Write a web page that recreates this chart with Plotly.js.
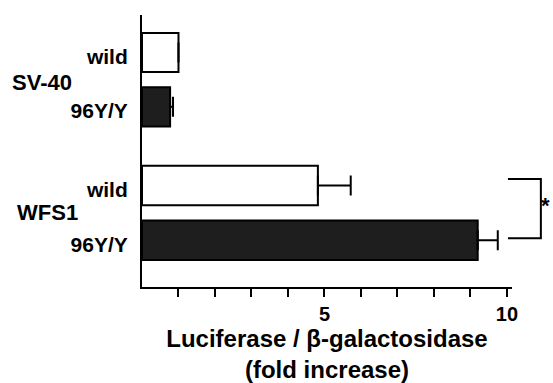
<!DOCTYPE html>
<html>
<head>
<meta charset="utf-8">
<script src="https://cdn.plot.ly/plotly-3.0.1.min.js"></script>
<style>html,body{margin:0;padding:0;background:#fff;}#chart{width:553px;height:383px;}</style>
</head>
<body>
<div id="chart"></div>
<script>
// ---- data ----
const groups = ["SV-40", "WFS1"];
const variants = ["wild", "96Y/Y"];
const sv40Values = [1.0, 0.77];
const sv40Errors = [0, 0.08];
const wfs1Values = [4.82, 9.2];
const wfs1Errors = [0.9, 0.55];
const xTickVals = [1, 2, 3, 4, 5, 6, 7, 8, 9, 10];
const xTickText = ["", "", "", "", "5", "", "", "", "", "10"];
const xTitle = "Luciferase / β-galactosidase<br>(fold increase)";
const sigMark = "*";

// ---- style ----
const FONT = "Liberation Sans, Arial, sans-serif";
const barColors = ["#ffffff", "#1e1e1e"];

function barTrace(vals, errs, yax) {
  return {
    type: "bar", orientation: "h",
    x: vals, y: variants, yaxis: yax, xaxis: "x",
    width: 0.72,
    marker: { color: barColors, line: { color: "#000", width: 2 } },
    error_x: { type: "data", array: errs, arrayminus: errs.map(() => 0), symmetric: false,
               color: "#000", thickness: 2, width: 10 },
    hoverinfo: "skip", showlegend: false
  };
}

const yCommon = {
  type: "category", showline: true, linecolor: "#000", linewidth: 2,
  ticks: "", showgrid: false, zeroline: false, fixedrange: true,
  tickfont: { family: FONT, size: 21, color: "#000", weight: "bold" },
  ticklabelstandoff: 8, ticklabelshift: -4
};

const layout = {
  width: 553, height: 383,
  margin: { l: 142, r: 41, t: 15, b: 96 },
  paper_bgcolor: "#fff", plot_bgcolor: "#fff",
  font: { family: FONT, color: "#000" },
  bargap: 0,
  xaxis: {
    anchor: "y2", range: [0, 10.14], showline: true, linecolor: "#000", linewidth: 2,
    showgrid: false, zeroline: false,
    ticks: "outside", ticklen: 8, tickwidth: 2, tickcolor: "#000",
    tickvals: xTickVals, ticktext: xTickText,
    tickfont: { family: FONT, size: 20, color: "#000", weight: "bold" },
    title: { text: xTitle, font: { family: FONT, size: 24, color: "#000", weight: "bold" }, standoff: 8 }
  },
  yaxis: Object.assign({}, yCommon, { domain: [0.5184, 1], range: [1.72, -0.69] }),
  yaxis2: Object.assign({}, yCommon, { domain: [0, 0.5184], range: [1.85, -0.72] }),
  annotations: [
    { text: groups[0], xref: "paper", x: 0, xanchor: "left", xshift: -132,
      yref: "y", y: 0.5, yanchor: "middle", yshift: -3, showarrow: false,
      font: { family: FONT, size: 22, color: "#000", weight: "bold" } },
    { text: groups[1], xref: "paper", x: 0, xanchor: "left", xshift: -127,
      yref: "y2", y: 0.5, yanchor: "middle", yshift: 0, showarrow: false,
      font: { family: FONT, size: 22, color: "#000", weight: "bold" } },
    { text: sigMark, xref: "paper", x: 1.108, xanchor: "right",
      yref: "y2", y: 0.36, yanchor: "middle", showarrow: false,
      font: { family: FONT, size: 22, color: "#000", weight: "bold" } }
  ],
  shapes: [
    { type: "path", xref: "paper", yref: "y2",
      path: "M 0.989,-0.12 L 1.078,-0.12 L 1.078,0.96 L 0.989,0.96",
      line: { color: "#000", width: 2 } }
  ]
};

Plotly.newPlot("chart", [barTrace(sv40Values, sv40Errors, "y"), barTrace(wfs1Values, wfs1Errors, "y2")], layout,
  { staticPlot: true, displayModeBar: false });
</script>
</body>
</html>
